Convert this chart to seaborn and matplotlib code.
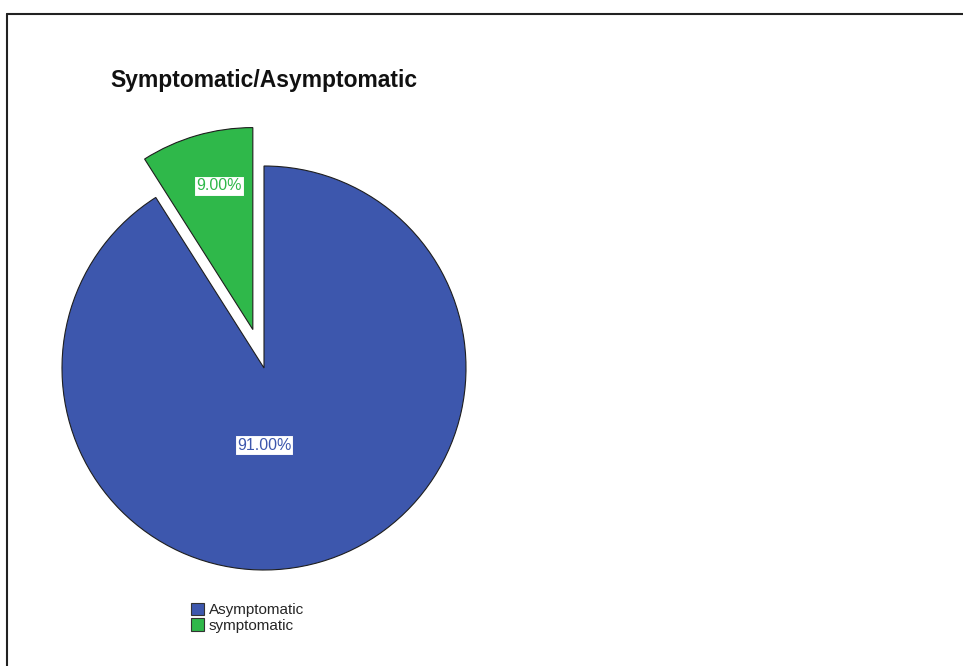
import matplotlib
matplotlib.use("Agg")
import matplotlib.pyplot as plt
import seaborn as sns
from matplotlib.patches import Patch
from matplotlib.lines import Line2D

sns.set_theme(style="white")
plt.rcParams["font.family"] = ["Liberation Sans", "DejaVu Sans"]

categories = ["Asymptomatic", "symptomatic"]
percentages = [91.0, 9.0]
colors = ["#3d57ad", "#2fb84a"]
title = "Symptomatic/Asymptomatic"

W, H = 963, 666
fig = plt.figure(figsize=(W / 100, H / 100), dpi=100)
ax = fig.add_axes([0, 0, 1, 1])

cx, cy, r = 264, H - 368, 202
wedges, texts, autotexts = ax.pie(
    percentages,
    colors=colors,
    startangle=90,
    counterclock=False,
    center=(cx, cy),
    radius=r,
    explode=[0, 40],
    autopct="%.2f%%",
    wedgeprops=dict(edgecolor="#1e1e1e", linewidth=0.8),
    frame=True,
)
ax.set_xlim(0, W)
ax.set_ylim(0, H)
ax.set_aspect("equal")
ax.axis("off")

label_pos = [(264, H - 445), (219, H - 186)]
for t, pos, c in zip(autotexts, label_pos, colors):
    t.set_position(pos)
    t.set_color(c)
    t.set_fontsize(11.5)
    t.set_bbox(dict(facecolor="white", edgecolor=c, linewidth=0.8, pad=1.5))

fig.text(110 / W, 1 - 80 / H, title, fontsize=16.5, fontweight="bold",
         color="#111111", ha="left", va="center")

handles = [Patch(facecolor=c, edgecolor="#333333", linewidth=0.8) for c in colors]
fig.legend(handles, categories, loc="upper left", bbox_to_anchor=(180 / W, 1 - 592 / H),
           frameon=False, fontsize=11, handlelength=0.9, handleheight=0.9,
           handletextpad=0.3, labelspacing=0.05, borderpad=0.2)

fig.add_artist(Line2D([7 / W, 1], [1 - 14 / H, 1 - 14 / H], color="#222222", linewidth=1.5))
fig.add_artist(Line2D([7 / W, 7 / W], [0, 1 - 14 / H], color="#222222", linewidth=1.5))

fig.savefig("out.png", dpi=100)
